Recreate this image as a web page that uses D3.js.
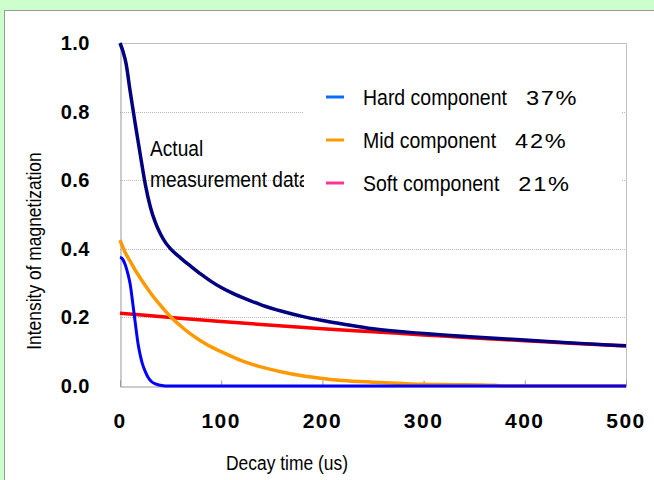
<!DOCTYPE html>
<html>
<head>
<meta charset="utf-8">
<script src="https://cdn.jsdelivr.net/npm/d3@7/dist/d3.min.js"></script>
<style>
  html, body { margin: 0; padding: 0; background: #ccffcc; }
  svg { display: block; }
  text { font-family: "Liberation Sans", Arial, sans-serif; }
</style>
</head>
<body>
<svg width="654" height="480"></svg>
<script>
// measured curve and its three decay components (time in us)
var measuredT = [0, 3, 6, 10, 15, 20, 25, 30, 35, 40, 45, 50, 60, 70, 80, 90, 100, 110, 120, 140, 160, 180, 200, 220, 250, 300, 350, 400, 450, 500];
var measuredV = [1.0, 0.975, 0.94, 0.86, 0.765, 0.675, 0.588, 0.522, 0.476, 0.443, 0.418, 0.400, 0.373, 0.349, 0.326, 0.305, 0.287, 0.272, 0.259, 0.236, 0.218, 0.203, 0.191, 0.181, 0.167, 0.153, 0.143, 0.134, 0.125, 0.117];

var hardT = [0, 2, 5, 8, 10, 13, 16, 18, 20, 22, 25, 28, 31, 35, 40, 45, 500];
var hardV = [0.375, 0.372, 0.355, 0.325, 0.298, 0.232, 0.163, 0.12, 0.09, 0.066, 0.042, 0.024, 0.013, 0.006, 0.002, 0, 0];

var midT = [0, 5, 10, 15, 20, 25, 30, 40, 50, 60, 70, 80, 90, 100, 120, 140, 160, 180, 200, 220, 250, 280, 300, 330, 370, 380, 500];
var midV = [0.425, 0.39, 0.364, 0.338, 0.315, 0.293, 0.272, 0.235, 0.202, 0.175, 0.151, 0.131, 0.114, 0.1, 0.074, 0.055, 0.041, 0.030, 0.022, 0.016, 0.011, 0.007, 0.005, 0.004, 0.002, 0, 0];

var softT = [0, 50, 100, 150, 200, 250, 300, 350, 400, 450, 500];
var softV = [0.212, 0.200, 0.188, 0.177, 0.167, 0.158, 0.149, 0.140, 0.132, 0.124, 0.117];

var legendNames = ["Hard component", "Mid component", "Soft component"];
var legendShares = ["37%", "42%", "21%"];
var legendColors = ["#0a6cff", "#ff9900", "#ff3399"];

var xTicks = [0, 100, 200, 300, 400, 500];
var yTicks = [0, 0.2, 0.4, 0.6, 0.8, 1.0];

var svg = d3.select("svg"),
    margin = {top: 43, right: 28, bottom: 94, left: 120},
    width = +svg.attr("width"),
    height = +svg.attr("height"),
    squeeze = 0.87; // the source font is a condensed sans

var x = d3.scaleLinear().domain([0, 500]).range([margin.left, width - margin.right]);
var y = d3.scaleLinear().domain([0, 1]).range([height - margin.bottom, margin.top]);

// white panel on the green page
svg.append("rect")
    .attr("x", 4.5).attr("y", 10.5)
    .attr("width", width).attr("height", height)
    .attr("fill", "#fff").attr("stroke", "#999");

// dotted gridlines
svg.append("g")
  .selectAll("line")
  .data(yTicks.filter(function(d) { return d > 0 && d < 1; }))
  .enter().append("line")
    .attr("x1", x(0)).attr("x2", x(500))
    .attr("y1", function(d) { return Math.round(y(d)) + 0.5; })
    .attr("y2", function(d) { return Math.round(y(d)) + 0.5; })
    .attr("stroke", "#b8b8b8")
    .attr("stroke-dasharray", "1,1");

// plot frame: top and right
svg.append("path")
    .attr("d", "M" + x(0) + "," + (y(1) + 0.5) + "H" + (x(500) + 0.5) + "V" + y(0))
    .attr("fill", "none").attr("stroke", "#c0c0c0");

// axes
var xAxis = svg.append("g")
    .attr("transform", "translate(0," + (Math.round(y(0)) + 0.5) + ")")
    .call(d3.axisTop(x).tickValues(xTicks).tickSize(6).tickFormat(""));
xAxis.select(".domain").attr("stroke", "#999");
xAxis.selectAll(".tick line").attr("stroke", "#999");

svg.append("g")
    .attr("transform", "translate(" + (x(0) + 0.5) + ",0)")
    .call(d3.axisLeft(y).tickValues(yTicks).tickSize(0).tickFormat(""))
  .select(".domain").attr("stroke", "#999");

svg.append("g")
  .selectAll("text")
  .data(xTicks)
  .enter().append("text")
    .attr("x", function(d) { return x(d); })
    .attr("y", 428)
    .attr("text-anchor", "middle")
    .attr("font-weight", "bold")
    .attr("font-size", 21)
    .attr("letter-spacing", 1.5)
    .text(function(d) { return d; });

svg.append("g")
  .selectAll("text")
  .data(yTicks)
  .enter().append("text")
    .attr("x", 90)
    .attr("y", function(d) { return y(d) + 7; })
    .attr("text-anchor", "end")
    .attr("font-weight", "bold")
    .attr("font-size", 20)
    .attr("letter-spacing", 0.5)
    .text(function(d) { return d3.format(".1f")(d); });

svg.append("text")
    .attr("transform", "translate(287,470) scale(0.83,1)")
    .attr("text-anchor", "middle")
    .attr("font-size", 21)
    .text("Decay time (us)");

svg.append("text")
    .attr("transform", "translate(41,251) rotate(-90) scale(0.83,1)")
    .attr("text-anchor", "middle")
    .attr("font-size", 21)
    .text("Intensity of magnetization");

// curves
var line = d3.line()
    .x(function(d) { return x(d[0]); })
    .y(function(d) { return y(d[1]); })
    .curve(d3.curveMonotoneX);

function pairs(t, v) { return t.map(function(d, i) { return [d, v[i]]; }); }

var curves = [
  {t: softT, v: softV, color: "#ff0000", w: 3.5},
  {t: midT, v: midV, color: "#ff9900", w: 3.5},
  {t: hardT, v: hardV, color: "#0000ff", w: 3},
  {t: measuredT, v: measuredV, color: "#000080", w: 3.5}
];

svg.append("g")
  .selectAll("path")
  .data(curves)
  .enter().append("path")
    .attr("fill", "none")
    .attr("stroke", function(d) { return d.color; })
    .attr("stroke-width", function(d) { return d.w; })
    .attr("stroke-linejoin", "round")
    .attr("d", function(d) { return line(pairs(d.t, d.v)); });

// label for the measured curve
var note = svg.append("text")
    .attr("transform", "translate(150,0) scale(" + squeeze + ",1)")
    .attr("font-size", 22);
note.append("tspan").attr("x", 0).attr("y", 156).text("Actual");
note.append("tspan").attr("x", 0).attr("y", 187).text("measurement data");

// legend box covers gridlines and the end of the note
svg.append("rect")
    .attr("x", 304).attr("y", 78)
    .attr("width", 318).attr("height", 128)
    .attr("fill", "#fff");

var legend = svg.append("g")
  .selectAll("g")
  .data(legendNames)
  .enter().append("g")
    .attr("transform", function(d, i) { return "translate(326," + (97 + i * 43) + ")"; });

legend.append("line")
    .attr("x1", 0).attr("x2", 18)
    .attr("stroke", function(d, i) { return legendColors[i]; })
    .attr("stroke-width", 3);

legend.append("text")
    .attr("class", "name")
    .attr("transform", "translate(37,8) scale(0.885,1)")
    .attr("font-size", 22)
    .text(function(d) { return d; });

legend.append("text")
    .attr("transform", function(d, i) {
      var w = this.parentNode.querySelector(".name").getComputedTextLength() * 0.885;
      return "translate(" + (37 + w + 19) + ",8) scale(1.15,1)";
    })
    .attr("font-family", "DejaVu Sans, sans-serif")
    .attr("font-size", 20.5)
    .attr("letter-spacing", 1.5)
    .text(function(d, i) { return legendShares[i]; });
</script>
</body>
</html>
